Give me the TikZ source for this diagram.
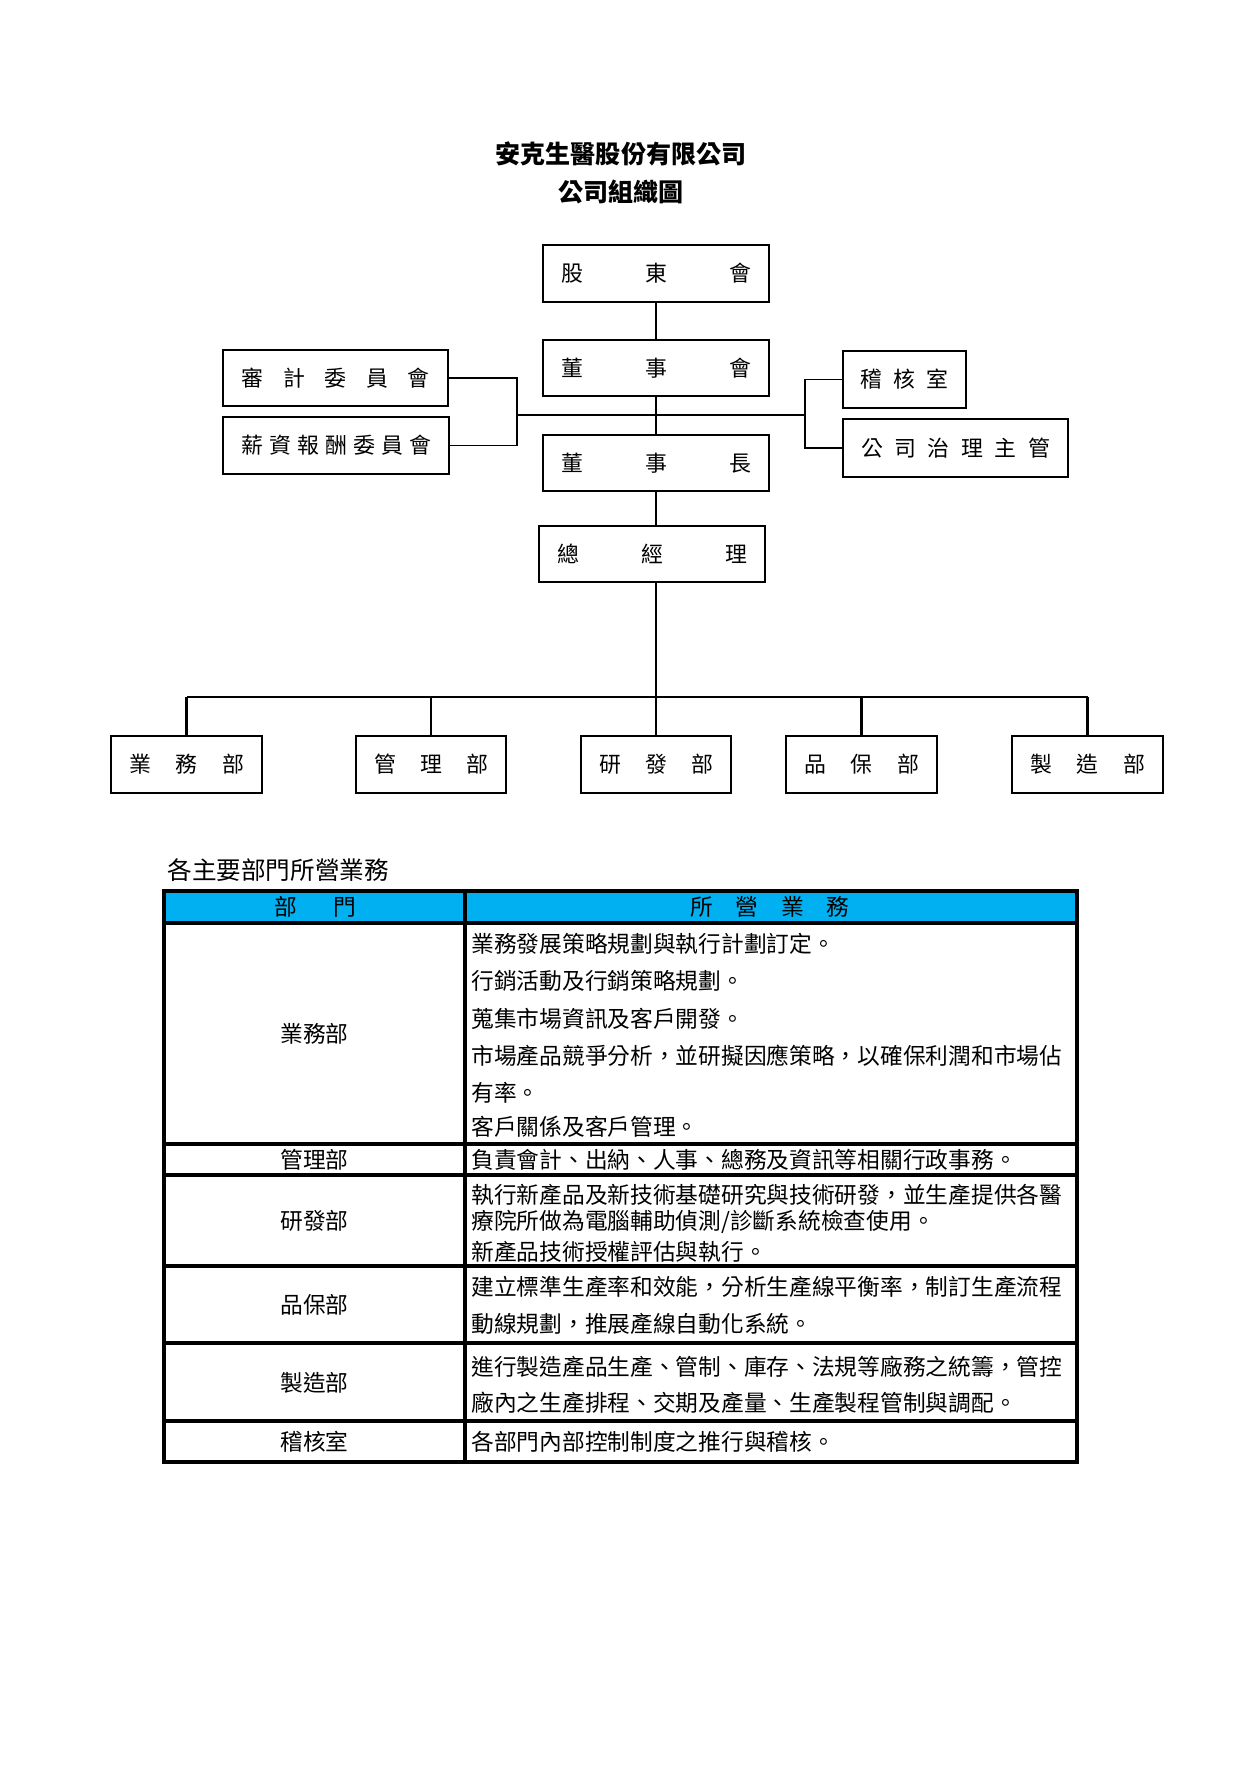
\documentclass[tikz,border=0pt]{standalone}
\usepackage{fontspec}
\setmainfont{Noto Sans CJK TC}
\newdimen\pxu \pxu=0.4797pt
\definecolor{hdrblue}{RGB}{0,176,240}
\tikzset{
  orgbox/.style={draw, line width=0.9pt, inner sep=0pt, font=\fontsize{10.5}{12}\selectfont},
  conn/.style={line width=0.5pt},
  busline/.style={line width=1pt},
  tline/.style={line width=1.5pt},
  ttext/.style={font=\fontsize{10.9}{12}\selectfont, inner sep=0pt},
  tline1/.style={ttext, anchor=west},
}
\newcommand{\spr}[2]{\hbox to #1\pxu{#2}}
\begin{document}
\begin{tikzpicture}[x=0.4797pt,y=-0.4797pt]
\useasboundingbox (0,0) rectangle (1241,1766);
% titles
\node[font=\fontsize{12}{14}\selectfont\bfseries, inner sep=0pt] (t1) at (621,154) {安克生醫股份有限公司};
\node[font=\fontsize{12}{14}\selectfont\bfseries, inner sep=0pt] (t2) at (621,192) {公司組織圖};
% org boxes
\node[orgbox, minimum width=226\pxu, minimum height=57\pxu] (sh) at (656,273.5) {\spr{190}{股\hfill 東\hfill 會}};
\node[orgbox, minimum width=226\pxu, minimum height=56\pxu] (bd) at (656,368) {\spr{190}{董\hfill 事\hfill 會}};
\node[orgbox, minimum width=226\pxu, minimum height=56\pxu] (ch) at (656,463) {\spr{190}{董\hfill 事\hfill 長}};
\node[orgbox, minimum width=226\pxu, minimum height=56\pxu] (gm) at (652,554) {\spr{190}{總\hfill 經\hfill 理}};
\node[orgbox, minimum width=225\pxu, minimum height=56\pxu] (au) at (335.5,378) {\spr{188}{審\hfill 計\hfill 委\hfill 員\hfill 會}};
\node[orgbox, minimum width=226\pxu, minimum height=57\pxu] (rc) at (336,445.5) {\spr{190}{薪\hfill 資\hfill 報\hfill 酬\hfill 委\hfill 員\hfill 會}};
\node[orgbox, minimum width=123\pxu, minimum height=57\pxu] (ia) at (904.5,379.5) {\spr{88}{稽\hfill 核\hfill 室}};
\node[orgbox, minimum width=225\pxu, minimum height=58\pxu] (cg) at (955.5,448) {\spr{189}{公\hfill 司\hfill 治\hfill 理\hfill 主\hfill 管}};
\node[orgbox, minimum width=151\pxu, minimum height=57\pxu] (d1) at (186.5,764.5) {\spr{115}{業\hfill 務\hfill 部}};
\node[orgbox, minimum width=150\pxu, minimum height=57\pxu] (d2) at (431,764.5) {\spr{114}{管\hfill 理\hfill 部}};
\node[orgbox, minimum width=150\pxu, minimum height=57\pxu] (d3) at (656,764.5) {\spr{114}{研\hfill 發\hfill 部}};
\node[orgbox, minimum width=151\pxu, minimum height=57\pxu] (d4) at (861.5,764.5) {\spr{115}{品\hfill 保\hfill 部}};
\node[orgbox, minimum width=151\pxu, minimum height=57\pxu] (d5) at (1087.5,764.5) {\spr{115}{製\hfill 造\hfill 部}};
% connectors
\coordinate (lj) at (517,415);
\coordinate (rj) at (805,415);
\coordinate (bus) at (656,697);
\draw[conn] (sh.south) -- (bd.north);
\draw[conn] (bd.south) -- (ch.north);
\draw[conn] (ch.south) -- (ch.south |- gm.north);
\draw[conn] (au.east) -- (au.east -| lj) -- (rc.east -| lj) -- (rc.east);
\draw[conn] (lj) -- (rj);
\draw[conn] (ia.west) -- (ia.west -| rj) -- (cg.west -| rj) -- (cg.west);
\draw[busline] (ch.south |- gm.south) -- (d3.north);
\draw[busline] (d1.north |- bus) -- (d5.north |- bus);
\draw[busline] (d1.north |- bus) -- (d1.north);
\draw[busline] (d2.north |- bus) -- (d2.north);
\draw[busline] (d4.north |- bus) -- (d4.north);
\draw[busline] (d5.north |- bus) -- (d5.north);
% table
\node[font=\fontsize{11.8}{13}\selectfont, inner sep=0pt, anchor=west] (th) at (167,870) {各主要部門所營業務};
\fill[hdrblue] (164,891) rectangle (1077,923);
\draw[tline] (164,891) rectangle (1077,1462);
\draw[tline] (465,891) -- (465,1462);
\foreach \yy in {923,1144,1175,1266,1343,1421} \draw[tline] (164,\yy) -- (1077,\yy);
\node[ttext] (h1) at (315.5,907) {部\hspace{1.6em}門};
\node[ttext] (h2) at (770,907) {所　營　業　務};
\node[ttext] (l1) at (314.5,1034) {業務部};
\node[ttext] (l2) at (314.5,1160) {管理部};
\node[ttext] (l3) at (314.5,1221) {研發部};
\node[ttext] (l4) at (314.5,1305) {品保部};
\node[ttext] (l5) at (314.5,1383) {製造部};
\node[ttext] (l6) at (314.5,1442) {稽核室};
\node[tline1] (r1a) at (471,944) {業務發展策略規劃與執行計劃訂定。};
\node[tline1] (r1b) at (471,981) {行銷活動及行銷策略規劃。};
\node[tline1] (r1c) at (471,1019) {蒐集市場資訊及客戶開發。};
\node[tline1] (r1d) at (471,1056) {市場產品競爭分析，並研擬因應策略，以確保利潤和市場佔};
\node[tline1] (r1e) at (471,1093) {有率。};
\node[tline1] (r1f) at (471,1127) {客戶關係及客戶管理。};
\node[tline1] (r2a) at (471,1160) {負責會計、出納、人事、總務及資訊等相關行政事務。};
\node[tline1] (r3a) at (471,1195) {執行新產品及新技術基礎研究與技術研發，並生產提供各醫};
\node[tline1] (r3b) at (471,1222) {療院所做為電腦輔助偵測/診斷系統檢查使用。};
\node[tline1] (r3c) at (471,1252) {新產品技術授權評估與執行。};
\node[tline1] (r4a) at (471,1287) {建立標準生產率和效能，分析生產線平衡率，制訂生產流程};
\node[tline1] (r4b) at (471,1324) {動線規劃，推展產線自動化系統。};
\node[tline1] (r5a) at (471,1367) {進行製造產品生產、管制、庫存、法規等廠務之統籌，管控};
\node[tline1] (r5b) at (471,1403) {廠內之生產排程、交期及產量、生產製程管制與調配。};
\node[tline1] (r6a) at (471,1442) {各部門內部控制制度之推行與稽核。};
\end{tikzpicture}
\end{document}
